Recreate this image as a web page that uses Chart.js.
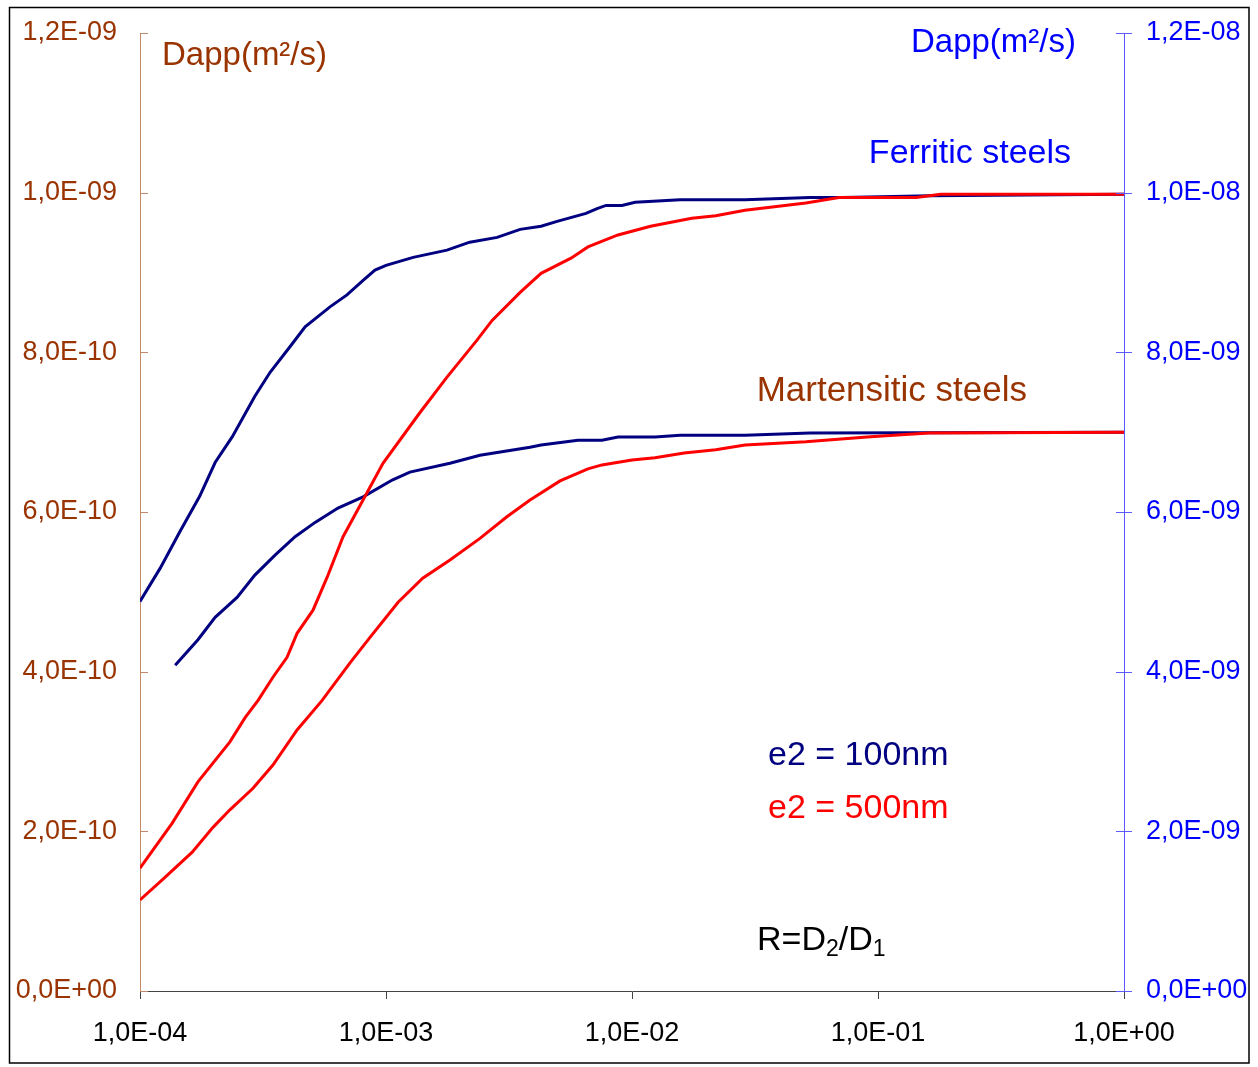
<!DOCTYPE html>
<html>
<head>
<meta charset="utf-8">
<script src="https://cdn.jsdelivr.net/npm/chart.js@4.4.1/dist/chart.umd.min.js"></script>
<style>
  html, body { margin: 0; padding: 0; background: #fff; }
</style>
</head>
<body>
<canvas id="chart" width="1258" height="1067"></canvas>
<script>
// R = D2/D1 and Dapp (in units of 1e-10 m²/s, left axis)
const ratioFerritic100 = [1.00e-4, 1.21e-4, 1.45e-4, 1.75e-4, 2.02e-4, 2.37e-4, 2.93e-4, 3.38e-4, 4.07e-4, 4.69e-4,
  5.92e-4, 6.94e-4, 8.07e-4, 9.02e-4, 1.00e-3, 1.29e-3, 1.77e-3, 2.19e-3, 2.83e-3, 3.51e-3, 4.27e-3, 4.96e-3,
  6.50e-3, 7.21e-3, 7.84e-3, 9.10e-3, 1.03e-2, 1.57e-2, 2.88e-2, 5.29e-2, 7.21e-2, 0.163, 1];
const dappFerritic100 = [4.88, 5.30, 5.75, 6.20, 6.62, 6.94, 7.45, 7.75, 8.07, 8.32,
  8.57, 8.72, 8.90, 9.03, 9.09, 9.19, 9.28, 9.38, 9.44, 9.54, 9.58, 9.64,
  9.74, 9.80, 9.84, 9.84, 9.88, 9.91, 9.91, 9.94, 9.94, 9.96, 9.98];

const ratioFerritic500 = [1.00e-4, 1.35e-4, 1.72e-4, 2.32e-4, 2.67e-4, 3.02e-4, 3.47e-4, 3.96e-4, 4.35e-4, 5.05e-4,
  5.76e-4, 6.69e-4, 8.37e-4, 9.72e-4, 1.37e-3, 1.77e-3, 2.34e-3, 2.70e-3, 3.51e-3, 4.27e-3, 5.65e-3, 6.62e-3,
  8.77e-3, 1.19e-2, 1.75e-2, 2.19e-2, 2.88e-2, 5.09e-2, 6.94e-2, 0.143, 0.180, 1];
const dappFerritic500 = [1.54, 2.10, 2.62, 3.12, 3.42, 3.64, 3.93, 4.18, 4.48, 4.77,
  5.18, 5.69, 6.24, 6.61, 7.24, 7.69, 8.15, 8.40, 8.75, 8.99, 9.18, 9.32,
  9.47, 9.58, 9.68, 9.71, 9.78, 9.87, 9.94, 9.94, 9.98, 9.98];

const ratioMartensitic100 = [1.39e-4, 1.72e-4, 2.02e-4, 2.48e-4, 2.93e-4, 3.54e-4, 4.27e-4, 5.15e-4, 6.38e-4, 8.07e-4,
  1.06e-3, 1.25e-3, 1.82e-3, 2.41e-3, 3.85e-3, 4.27e-3, 6.03e-3, 7.55e-3, 8.77e-3, 1.24e-2, 1.57e-2, 2.88e-2,
  5.29e-2, 1];
const dappMartensitic100 = [4.08, 4.40, 4.68, 4.93, 5.21, 5.46, 5.69, 5.87, 6.05, 6.19,
  6.40, 6.50, 6.61, 6.71, 6.81, 6.84, 6.90, 6.90, 6.94, 6.94, 6.96, 6.96,
  6.99, 7.00];

const ratioMartensitic500 = [1.00e-4, 1.26e-4, 1.63e-4, 1.98e-4, 2.32e-4, 2.88e-4, 3.47e-4, 4.35e-4, 5.50e-4, 7.14e-4,
  8.61e-4, 1.12e-3, 1.41e-3, 1.82e-3, 2.41e-3, 3.10e-3, 3.85e-3, 5.10e-3, 6.62e-3, 7.55e-3, 1.00e-2, 1.24e-2,
  1.63e-2, 2.19e-2, 2.88e-2, 5.09e-2, 9.02e-2, 0.161, 1];
const dappMartensitic500 = [1.14, 1.42, 1.74, 2.05, 2.27, 2.54, 2.83, 3.27, 3.64, 4.11,
  4.43, 4.87, 5.17, 5.40, 5.67, 5.94, 6.15, 6.39, 6.54, 6.59, 6.65, 6.68,
  6.74, 6.78, 6.84, 6.88, 6.94, 6.99, 7.00];

const xTicks = [1e-4, 1e-3, 1e-2, 1e-1, 1];
const leftUnit = 1e-10;   // left axis: 0 .. 1,2E-09
const rightUnit = 1e-9;   // right axis: 0 .. 1,2E-08 (same grid, x10)

const BROWN = '#993300';
const BLUE = '#0000ff';
const NAVY = '#000080';
const RED = '#ff0000';
const FONT = '"Liberation Sans", Arial, sans-serif';

function sci(v) {
  if (Math.abs(v) < 1e-30) return '0,0E+00';
  const e = Math.floor(Math.log10(v) + 1e-9);
  const m = v / Math.pow(10, e);
  return m.toFixed(1).replace('.', ',') + 'E' + (e < 0 ? '-' : '+') + String(Math.abs(e)).padStart(2, '0');
}

function pairs(xs, ys) {
  return xs.map((x, i) => ({ x: x, y: ys[i] }));
}

function line(label, xs, ys, color) {
  return {
    label: label,
    data: pairs(xs, ys),
    borderColor: color,
    borderWidth: 3,
    pointRadius: 0,
    tension: 0,
    fill: false,
    yAxisID: 'y'
  };
}

const frameAndTicks = {
  id: 'frameAndTicks',
  beforeDraw(chart) {
    const ctx = chart.ctx;
    ctx.save();
    ctx.fillStyle = '#fff';
    ctx.fillRect(0, 0, chart.width, chart.height);
    ctx.strokeStyle = '#000';
    ctx.lineWidth = 1.5;
    ctx.strokeRect(9.5, 7.5, 1239.5, 1055.5);
    ctx.restore();
  },
  afterDraw(chart) {
    const ctx = chart.ctx;
    const yl = chart.scales.y, yr = chart.scales.y2;
    ctx.save();
    ctx.lineWidth = 1;
    ctx.strokeStyle = '#c08a6a';
    yl.ticks.forEach(t => {
      const p = Math.round(yl.getPixelForValue(t.value)) + 0.5;
      ctx.beginPath(); ctx.moveTo(yl.right, p); ctx.lineTo(yl.right + 8, p); ctx.stroke();
    });
    ctx.strokeStyle = '#5a5aff';
    yr.ticks.forEach(t => {
      const p = Math.round(yr.getPixelForValue(t.value)) + 0.5;
      ctx.beginPath(); ctx.moveTo(yr.left - 8, p); ctx.lineTo(yr.left + 8, p); ctx.stroke();
    });

    // text boxes
    ctx.textBaseline = 'middle';
    ctx.textAlign = 'left';
    ctx.font = '33px ' + FONT;
    ctx.fillStyle = BROWN;
    ctx.fillText('Dapp(m²/s)', 162, 56);
    ctx.textAlign = 'right';
    ctx.fillStyle = BLUE;
    ctx.fillText('Dapp(m²/s)', 1076, 43);
    ctx.font = '34px ' + FONT;
    ctx.fillText('Ferritic steels', 1071, 154);
    ctx.font = '35px ' + FONT;
    ctx.fillStyle = BROWN;
    ctx.fillText('Martensitic steels', 1027, 391);
    ctx.textAlign = 'left';
    ctx.font = '34px ' + FONT;
    ctx.fillStyle = NAVY;
    ctx.fillText('e2 = 100nm', 768, 756);
    ctx.fillStyle = RED;
    ctx.fillText('e2 = 500nm', 768, 809);

    // R=D2/D1 with subscripts
    ctx.fillStyle = '#000';
    let x = 757;
    const parts = [['R=D', false], ['2', true], ['/D', false], ['1', true]];
    parts.forEach(([s, sub]) => {
      ctx.font = (sub ? '23px ' : '34px ') + FONT;
      ctx.fillText(s, x, sub ? 950 : 941);
      x += ctx.measureText(s).width;
    });
    ctx.restore();
  }
};

new Chart(document.getElementById('chart'), {
  type: 'line',
  data: {
    datasets: [
      line('Ferritic e2 = 500nm', ratioFerritic500, dappFerritic500, RED),
      line('Martensitic e2 = 500nm', ratioMartensitic500, dappMartensitic500, RED),
      line('Ferritic e2 = 100nm', ratioFerritic100, dappFerritic100, NAVY),
      line('Martensitic e2 = 100nm', ratioMartensitic100, dappMartensitic100, NAVY)
    ]
  },
  options: {
    responsive: false,
    animation: false,
    layout: { padding: { top: 33, left: 0, right: 0, bottom: 0 } },
    plugins: { legend: { display: false }, tooltip: { enabled: false } },
    scales: {
      x: {
        type: 'logarithmic',
        min: 1e-4,
        max: 1,
        afterBuildTicks(scale) { scale.ticks = xTicks.map(v => ({ value: v })); },
        afterFit(scale) { scale.height = 76; },
        grid: { drawOnChartArea: false, drawTicks: true, tickLength: 8, color: '#444' },
        border: { color: '#444', width: 1 },
        ticks: {
          color: '#000',
          font: { family: FONT, size: 27 },
          padding: 18,
          maxRotation: 0,
          autoSkip: false,
          callback: v => sci(v)
        }
      },
      y: {
        position: 'left',
        min: 0,
        max: 12,
        afterFit(scale) { scale.width = 140; },
        // invisible tick marks give the label gap without inflating the top padding
        grid: { drawOnChartArea: false, drawTicks: true, tickLength: 20, tickColor: 'rgba(0,0,0,0)' },
        border: { color: '#c08a6a', width: 1 },
        ticks: {
          stepSize: 2,
          color: BROWN,
          font: { family: FONT, size: 27 },
          padding: 3,
          callback: v => sci(v * leftUnit)
        }
      },
      y2: {
        position: 'right',
        display: true,
        min: 0,
        max: 12,
        afterFit(scale) { scale.width = 134; },
        grid: { drawOnChartArea: false, drawTicks: true, tickLength: 19, tickColor: 'rgba(0,0,0,0)' },
        border: { color: '#5a5aff', width: 1 },
        ticks: {
          stepSize: 2,
          color: BLUE,
          font: { family: FONT, size: 27 },
          padding: 3,
          callback: v => sci(v * rightUnit)
        }
      }
    }
  },
  plugins: [frameAndTicks]
});
</script>
</body>
</html>
